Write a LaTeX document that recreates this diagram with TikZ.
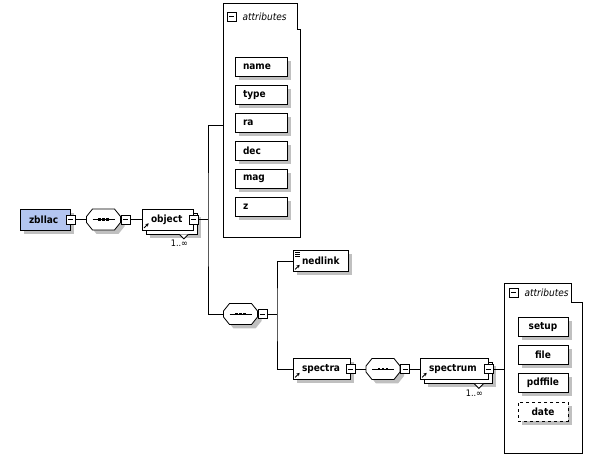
\documentclass[tikz,border=0pt]{standalone}
\usepackage{fontspec}
\setmainfont{DejaVu Sans}[FakeStretch=0.9]
\usetikzlibrary{shadows,arrows.meta,positioning}
\definecolor{zblue}{HTML}{B3C5F0}
\definecolor{shadowgrey}{HTML}{C0C0C0}
\tikzstyle{line} = [line width=0.8pt]
\tikzstyle{elem} = [draw, fill=white, line width=0.8pt, minimum height=21pt, inner xsep=9pt, inner ysep=0pt, align=left, font=\fontsize{10}{12}\selectfont\bfseries, drop shadow={shadow xshift=4pt,shadow yshift=-4pt,fill=shadowgrey,opacity=1}]
\tikzstyle{multi} = [draw, fill=white, line width=0.8pt, minimum height=21pt, inner xsep=9pt, inner ysep=0pt, align=left, font=\fontsize{10}{12}\selectfont\bfseries, drop shadow={shadow xshift=8pt,shadow yshift=-8pt,fill=shadowgrey,opacity=1}, copy shadow={shadow xshift=4pt,shadow yshift=-4pt,draw=black,fill=white}]
\tikzstyle{seq} = [minimum width=34pt, minimum height=21pt, inner sep=0pt]
\tikzstyle{minus} = [draw, fill=white, line width=0.8pt, minimum size=9pt, inner sep=0pt, path picture={\draw[line width=0.8pt] ([xshift=2pt]path picture bounding box.west) -- ([xshift=-2pt]path picture bounding box.east);}]
\tikzstyle{attr} = [draw, fill=white, line width=0.8pt, minimum height=19pt, inner xsep=8pt, inner ysep=0pt, text width=36pt, align=left, font=\fontsize{10}{12}\selectfont\bfseries, drop shadow={shadow xshift=4pt,shadow yshift=-4pt,fill=shadowgrey,opacity=1}]
\tikzstyle{attrhead} = [inner sep=0pt, font=\fontsize{10}{12}\selectfont\itshape]
\tikzstyle{card} = [inner sep=0pt, font=\fontsize{9}{11}\selectfont]
% sequence compositor drawn round a seq node
\newcommand{\seqoct}[1]{%
  \begin{scope}[shift={(#1.center)}]
    \fill[shadowgrey, shift={(4,-4)}] (-17,3) -- (-11,10.5) -- (11,10.5) -- (17,3) -- (17,-3) -- (11,-10.5) -- (-11,-10.5) -- (-17,-3) -- cycle;
    \draw[line, fill=white] (-17,3) -- (-11,10.5) -- (11,10.5) -- (17,3) -- (17,-3) -- (11,-10.5) -- (-11,-10.5) -- (-17,-3) -- cycle;
    \draw[line] (-11,0) -- (11,0);
    \foreach \dx in {-4,0,4} \fill (\dx-1.3,-1.3) rectangle +(2.6,2.6);
  \end{scope}}

\begin{document}
\begin{tikzpicture}[x=1pt,y=1pt]
        \useasboundingbox (0,0) rectangle (591,462);
        % root and first sequence
        \draw (45,242.5) node[elem, fill=zblue, text width=32pt] (zbllac) {zbllac};
        \node[minus] (zbllacm) at (zbllac.east) {};
        \draw (103.5,242.5) node[seq] (seqa) {};
        \seqoct{seqa}
        \node[minus, anchor=west] (seqam) at (seqa.east) {};
        \draw (167.5,242.5) node[multi, text width=33pt] (object) {object};
        \node[minus] (objectm) at (object.east) {};
        % attributes of object
        \draw[line, fill=white] (223,225) -- (223,459) -- (297,459) -- (297,433) -- (300,433) -- (300,225) -- cycle;
        \node[minus] (attrsam) at (231.5,445.5) {};
        \node[attrhead, right=6pt of attrsam] (attrsa) {attributes};
        \coordinate (attrsain) at (223,337);
        \foreach \nm [count=\i from 0] in {name,type,ra,dec,mag,z}
            \node[attr] (a-\nm) at (261,395-28*\i) {\nm};
        % second sequence
        \draw (240.5,148) node[seq] (seqb) {};
        \seqoct{seqb}
        \node[minus, anchor=west] (seqbm) at (seqb.east) {};
        \draw (320.5,201) node[elem, text width=37pt] (nedlink) {nedlink};
        \draw (321.5,93) node[elem, text width=39pt] (spectra) {spectra};
        \node[minus] (spectram) at (spectra.east) {};
        \draw (383,93) node[seq] (seqc) {};
        \seqoct{seqc}
        \node[minus, anchor=west] (seqcm) at (seqc.east) {};
        \draw (454,93) node[multi, text width=50pt] (spectrum) {spectrum};
        \node[minus] (spectrumm) at (spectrum.east) {};
        % attributes of spectrum
        \draw[line, fill=white] (504,9) -- (504,179) -- (571,179) -- (571,160) -- (582,160) -- (582,9) -- cycle;
        \node[minus] (attrsbm) at (513.5,169.5) {};
        \node[attrhead, right=6pt of attrsbm] (attrsb) {attributes};
        \coordinate (attrsbin) at (504,93);
        \node[attr, text width=34pt, align=center] (a-setup) at (543,135) {setup};
        \node[attr, text width=34pt, align=center] (a-file) at (543,107) {file};
        \node[attr, text width=34pt, align=center] (a-pdffile) at (543,79) {pdffile};
        \node[attr, text width=34pt, align=center, dashed] (a-date) at (543,50) {date};
        % icons
        \foreach \n in {object,nedlink,spectra,spectrum}
            \draw[line width=1pt, -{Stealth[length=3pt,width=3.5pt]}] ([shift={(2.5,2.5)}]\n.south west) -- ++(4.5,4.5);
        \foreach \k in {2.5,4.5,6.5}
            \draw[line width=0.6pt] ([shift={(2.5,-\k)}]nedlink.north west) -- ++(5,0);
        \foreach \n in {object,spectrum} {
            \draw[line, fill=white] ([shift={(-14,-4)}]\n.south east) -- ++(4.5,-4.5) -- ++(4.5,4.5);
            \node[card] at ([shift={(-14,-13)}]\n.south east) {1..∞};
        }
        % edges
        \coordinate (trunk) at (208,242.5);
        \coordinate (branch) at (277,148);
        \draw[line] (zbllacm) -- (seqa);
        \draw[line] (seqam) -- (object);
        \draw[line] (objectm) -- (trunk);
        \draw[line] (attrsain) -| (trunk) |- (seqb.west);
        \draw[line] (seqbm) -- (branch);
        \draw[line] (nedlink.west) -| (branch) |- (spectra.west);
        \draw[line] (spectram) -- (seqc);
        \draw[line] (seqcm) -- (spectrum);
        \draw[line] (spectrumm) -- (attrsbin);
    \end{tikzpicture}
\end{document}
